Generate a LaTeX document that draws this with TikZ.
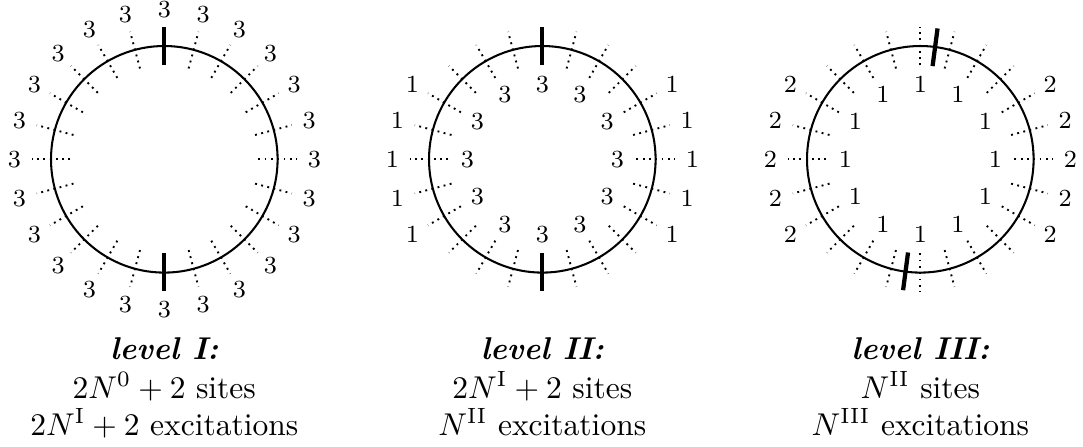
\documentclass[tikz,border=0pt]{standalone}
\usetikzlibrary{calc}
\begin{document}
\begin{tikzpicture}[x=0.31746pt,y=0.31746pt,
  ring/.style={line width=0.65pt},
  spoke/.style={line width=0.6pt, dash pattern=on 0.6pt off 1.4pt},
  tickmark/.style={line width=1.35pt},
  lab/.style={font=\fontsize{7.8}{9}\selectfont, inner sep=0pt},
  captxt/.style={anchor=base, inner sep=0pt}]
\useasboundingbox (0,0) rectangle (1083,446);
\coordinate (c1) at (164.3,286.7);
\coordinate (c2) at (542.3,286.7);
\coordinate (c3) at (920.3,286.7);
% circles
\foreach \l in {1,2,3}{
  \draw[ring] (c\l) circle[radius=113.3];
}
% spokes
\foreach \l in {1,2}{
  \foreach \a in {0,15,...,345}{
    \ifnum\a=90\else\ifnum\a=270\else
    \draw[spoke] ($(c\l)+(\a:94)$) -- ($(c\l)+(\a:132)$);
    \fi\fi
  }
}
\foreach \a in {0,15,...,345}{
  \draw[spoke] ($(c3)+(\a:94)$) -- ($(c3)+(\a:132)$);
}
% thick ticks
\draw[tickmark] ($(c1)+(90:94)$) -- ($(c1)+(90:132)$);
\draw[tickmark] ($(c1)+(270:94)$) -- ($(c1)+(270:132)$);
\draw[tickmark] ($(c2)+(90:94)$) -- ($(c2)+(90:132)$);
\draw[tickmark] ($(c2)+(270:94)$) -- ($(c2)+(270:132)$);
\draw[tickmark] ($(c3)+(82.5:94)$) -- ($(c3)+(82.5:132)$);
\draw[tickmark] ($(c3)+(262.5:94)$) -- ($(c3)+(262.5:132)$);
% level I labels
\foreach \a in {0,15,...,345}{
  \node[lab] (oa\a) at ($(c1)+(\a:150)$) {3};
}
% level II and III labels
\foreach \a in {-30,-15,0,15,30,150,165,180,195,210}{
  \node[lab] (ob\a) at ($(c2)+(\a:150)$) {1};
  \node[lab] (oc\a) at ($(c3)+(\a:150)$) {2};
}
\foreach \a in {0,30,...,330}{
  \node[lab] (ib\a) at ($(c2)+(\a:75)$) {3};
  \node[lab] (ic\a) at ($(c3)+(\a:75)$) {1};
}
% captions
\node[captxt] (t1a) at (164.3,87) {\textbf{\textit{level I:}}};
\node[captxt] (t1b) at (164.3,48) {$2N^0+2$ sites};
\node[captxt] (t1c) at (164.3,11) {$2N^{\mathrm{I}}+2$ excitations};
\node[captxt] (t2a) at (542.3,87) {\textbf{\textit{level II:}}};
\node[captxt] (t2b) at (542.3,48) {$2N^{\mathrm{I}}+2$ sites};
\node[captxt] (t2c) at (542.3,11) {$N^{\mathrm{II}}$ excitations};
\node[captxt] (t3a) at (920.3,87) {\textbf{\textit{level III:}}};
\node[captxt] (t3b) at (920.3,48) {$N^{\mathrm{II}}$ sites};
\node[captxt] (t3c) at (920.3,11) {$N^{\mathrm{III}}$ excitations};
\end{tikzpicture}
\end{document}
